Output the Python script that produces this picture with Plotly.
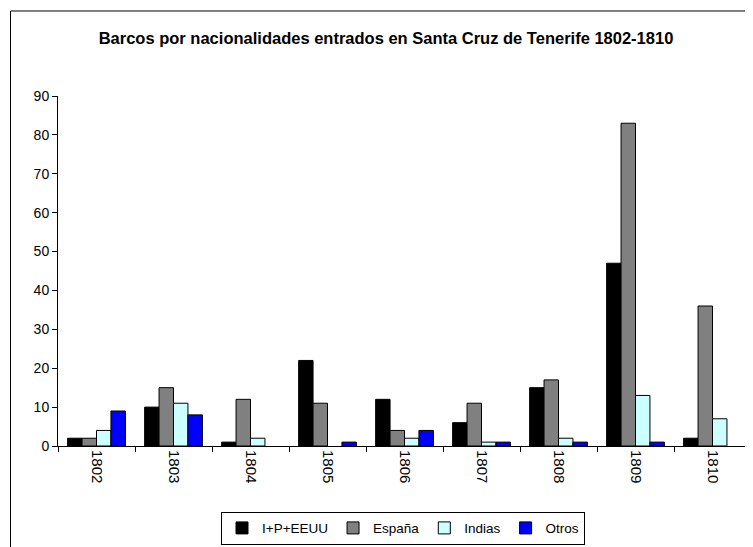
import plotly.graph_objects as go

years = ["1802", "1803", "1804", "1805", "1806", "1807", "1808", "1809", "1810"]
ipe = [2, 10, 1, 22, 12, 6, 15, 47, 2]
espana = [2, 15, 12, 11, 4, 11, 17, 83, 36]
indias = [4, 11, 2, 0, 2, 1, 2, 13, 7]
otros = [9, 8, 0, 1, 4, 1, 1, 1, 0]

series = [
    ("I+P+EEUU", ipe, "#000000"),
    ("España", espana, "#808080"),
    ("Indias", indias, "#CCFFFF"),
    ("Otros", otros, "#0000FF"),
]

fig = go.Figure()
for name, vals, col in series:
    fig.add_trace(go.Bar(
        x=years, y=vals, name=name,
        marker=dict(color=col, line=dict(color="#000000",
                                         width=[0 if v == 0 else 1 for v in vals])),
    ))

# page body has an 8px margin; work in figure pixels (reference px - 8)
W, H = 745, 539
L, R, T, B = 50, 2, 88, 99
pw = W - L - R
ph = H - T - B

def px_x(p):
    return (p - L) / pw

def px_y(p):
    return (H - B - p) / ph

fig.update_layout(
    width=W, height=H,
    margin=dict(l=L, r=R, t=T, b=B),
    paper_bgcolor="white", plot_bgcolor="white",
    barmode="group", bargap=0.25, bargroupgap=0,
    font=dict(family="Liberation Sans, Arial, sans-serif", size=13, color="#000000"),
    title=dict(
        text="<b>Barcos por nacionalidades entrados en Santa Cruz de Tenerife 1802-1810</b>",
        x=378 / W, xanchor="center", y=1 - 30 / H, yanchor="middle",
        font=dict(size=16.5, color="#000000"),
    ),
    legend=dict(
        orientation="h", x=px_x(395), xanchor="center", y=px_y(506), yanchor="top",
        bordercolor="#000000", borderwidth=1, bgcolor="white",
        font=dict(size=13.5), itemwidth=30, tracegroupgap=0,
    ),
    showlegend=True,
    xaxis=dict(
        type="category", tickangle=90, showline=True, linecolor="#000000", linewidth=1,
        ticks="outside", ticklen=5, tickcolor="#000000", tickson="boundaries",
        showgrid=False, tickfont=dict(size=15),
    ),
    yaxis=dict(
        range=[0, 90], dtick=10, showline=True, linecolor="#000000", linewidth=1,
        ticks="outside", ticklen=5, tickcolor="#000000", showgrid=False,
        zeroline=False, tickfont=dict(size=14),
    ),
    shapes=[
        dict(type="rect", xref="paper", yref="paper",
             x0=px_x(2.5), y0=px_y(560), x1=px_x(770), y1=px_y(2.5),
             line=dict(color="#000000", width=1), fillcolor="rgba(0,0,0,0)", layer="below"),
        dict(type="line", xref="paper", yref="paper",
             x0=1, x1=1, y0=0, y1=1,
             line=dict(color="#A0A0A0", width=1)),
    ],
)

fig.write_html("out.html")
